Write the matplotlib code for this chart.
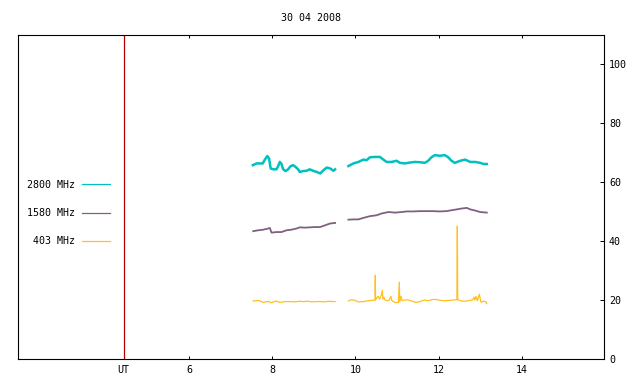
import numpy as np
import matplotlib
matplotlib.use("Agg")
import matplotlib.pyplot as plt

plt.rcParams['font.family'] = ['DejaVu Sans Mono']

# 2800 MHz flux (UT hours, value), two observing segments
t2800_a = [7.53, 7.62, 7.70, 7.77, 7.82, 7.88, 7.92, 7.96, 8.02, 8.10, 8.14, 8.18, 8.22,
           8.26, 8.32, 8.38, 8.44, 8.50, 8.56, 8.62, 8.66, 8.74, 8.82, 8.90, 8.98, 9.07,
           9.15, 9.23, 9.31, 9.39, 9.47, 9.51]
f2800_a = [65.8, 66.4, 66.4, 66.4, 67.7, 68.9, 68.1, 64.7, 64.4, 64.4, 65.5, 66.9, 66.2,
           64.4, 63.8, 64.4, 65.5, 65.8, 65.2, 64.4, 63.5, 63.8, 63.9, 64.4, 63.9, 63.5,
           63.0, 64.1, 65.0, 64.7, 63.9, 64.4]
t2800_b = [9.83, 9.95, 10.07, 10.19, 10.27, 10.35, 10.47, 10.59, 10.67, 10.75, 10.87, 10.99,
           11.07, 11.19, 11.31, 11.43, 11.55, 11.67, 11.75, 11.83, 11.91, 12.03, 12.15, 12.23,
           12.31, 12.39, 12.52, 12.64, 12.76, 12.88, 13.00, 13.08, 13.16]
f2800_b = [65.5, 66.4, 66.9, 67.7, 67.5, 68.5, 68.6, 68.6, 67.7, 66.9, 66.9, 67.3,
           66.6, 66.4, 66.7, 66.9, 66.8, 66.6, 67.3, 68.5, 69.2, 69.0, 69.2, 68.5,
           67.3, 66.6, 67.3, 67.7, 66.9, 66.9, 66.6, 66.2, 66.2]

# 1580 MHz
t1580_a = [7.54, 7.66, 7.78, 7.90, 7.94, 7.98, 8.10, 8.22, 8.34, 8.46, 8.58, 8.66, 8.78,
           8.90, 9.03, 9.15, 9.27, 9.39, 9.51]
f1580_a = [43.4, 43.7, 43.9, 44.3, 44.5, 42.9, 43.1, 43.1, 43.7, 43.9, 44.3, 44.7, 44.6,
           44.7, 44.8, 44.8, 45.4, 46.0, 46.2]
t1580_b = [9.83, 9.95, 10.07, 10.19, 10.35, 10.51, 10.63, 10.79, 10.95, 11.11, 11.23, 11.39,
           11.55, 11.71, 11.87, 12.03, 12.19, 12.31, 12.44, 12.56, 12.68, 12.76, 12.88,
           13.00, 13.16]
f1580_b = [47.3, 47.4, 47.4, 47.9, 48.5, 48.8, 49.4, 49.9, 49.7, 49.9, 50.1, 50.1,
           50.2, 50.2, 50.2, 50.1, 50.2, 50.5, 50.8, 51.1, 51.3, 50.8, 50.4,
           49.9, 49.7]

# 403 MHz
t403_a = [7.54, 7.66, 7.78, 7.90, 7.98, 8.09, 8.18, 8.30, 8.42, 8.55, 8.65, 8.75, 8.85,
          8.95, 9.05, 9.15, 9.25, 9.35, 9.45, 9.51]
f403_a = [19.7, 19.9, 19.2, 19.6, 19.1, 19.7, 19.2, 19.5, 19.5, 19.4, 19.6, 19.5, 19.6,
          19.4, 19.5, 19.5, 19.4, 19.6, 19.5, 19.5]
t403_b = [9.83, 9.89, 9.97, 10.07, 10.20, 10.30, 10.40, 10.47, 10.477, 10.484, 10.52, 10.55,
          10.58, 10.62, 10.646, 10.66, 10.686, 10.71, 10.80, 10.854, 10.87, 10.95, 11.03,
          11.055, 11.065, 11.095, 11.12, 11.25, 11.35, 11.45, 11.55, 11.65, 11.75, 11.85,
          11.95, 12.05, 12.15, 12.25, 12.35, 12.44, 12.451, 12.46, 12.55, 12.65, 12.75,
          12.82, 12.852, 12.87, 12.90, 12.93, 12.98, 13.02, 13.08, 13.13, 13.157]
f403_b = [19.7, 20.1, 20.0, 19.4, 19.5, 19.8, 19.9, 20.0, 28.4, 20.1, 20.8, 21.3,
          20.3, 21.6, 23.3, 20.4, 21.0, 20.0, 19.8, 21.3, 19.9, 19.2, 19.2,
          26.1, 19.4, 21.3, 19.9, 20.1, 19.7, 19.2, 19.5, 20.0, 19.8, 20.2,
          20.2, 19.9, 19.8, 19.9, 20.0, 20.2, 45.1, 20.2, 19.7, 19.6, 19.9,
          20.1, 21.0, 20.0, 21.3, 19.8, 22.0, 19.3, 19.6, 19.5, 18.8]

labels = ['2800 MHz', '1580 MHz', '403 MHz']
colors = ['#00c0c0', '#806080', '#ffc020']
ut_marker = 4.42
xticks = [ut_marker, 6, 8, 10, 12, 14]
xticklabels = ['UT', '6', '8', '10', '12', '14']
yticks = [0, 20, 40, 60, 80, 100]

fig = plt.figure(figsize=(6.4, 3.84), dpi=100)
ax = fig.add_axes([18 / 640, 1 - 359 / 384, (604 - 18) / 640, (359 - 35) / 384])

series = [(t2800_a, f2800_a, t2800_b, f2800_b, 1.8),
          (t1580_a, f1580_a, t1580_b, f1580_b, 1.3),
          (t403_a, f403_a, t403_b, f403_b, 0.9)]
for (ta, fa, tb, fb, lw), lab, col in zip(series, labels, colors):
    ax.plot(ta, fa, color=col, lw=lw, label=lab)
    ax.plot(tb, fb, color=col, lw=lw)

ax.axvline(ut_marker, color='#b00000', lw=0.9)

ax.set_xlim(1.88, 15.98)
ax.set_ylim(0, 110)
ax.set_xticks(xticks)
ax.set_xticklabels(xticklabels)
ax.set_yticks(yticks)
ax.yaxis.tick_right()
ax.tick_params(axis='x', direction='in', length=2.5, width=0.7, top=True,
               labelsize=7.2, pad=4.5)
ax.tick_params(axis='y', direction='in', length=3, width=0.7, left=False, right=True,
               labelsize=7.2, pad=3.6)
for s in ax.spines.values():
    s.set_linewidth(0.8)

ax.legend(handles=[plt.Line2D([], [], color=c, lw=0.9) for c in colors],
          labels=labels, markerfirst=False, frameon=False,
          loc='center right', bbox_to_anchor=(115 / 640, 1 - 213 / 384),
          bbox_transform=fig.transFigure, borderpad=0, handlelength=2.8,
          handletextpad=0.7, labelspacing=1.85, fontsize=7.2)

fig.text(311 / 640, 1 - 18 / 384, '30 04 2008', ha='center', va='center', fontsize=7.2)

fig.savefig('out.png', dpi=100)
